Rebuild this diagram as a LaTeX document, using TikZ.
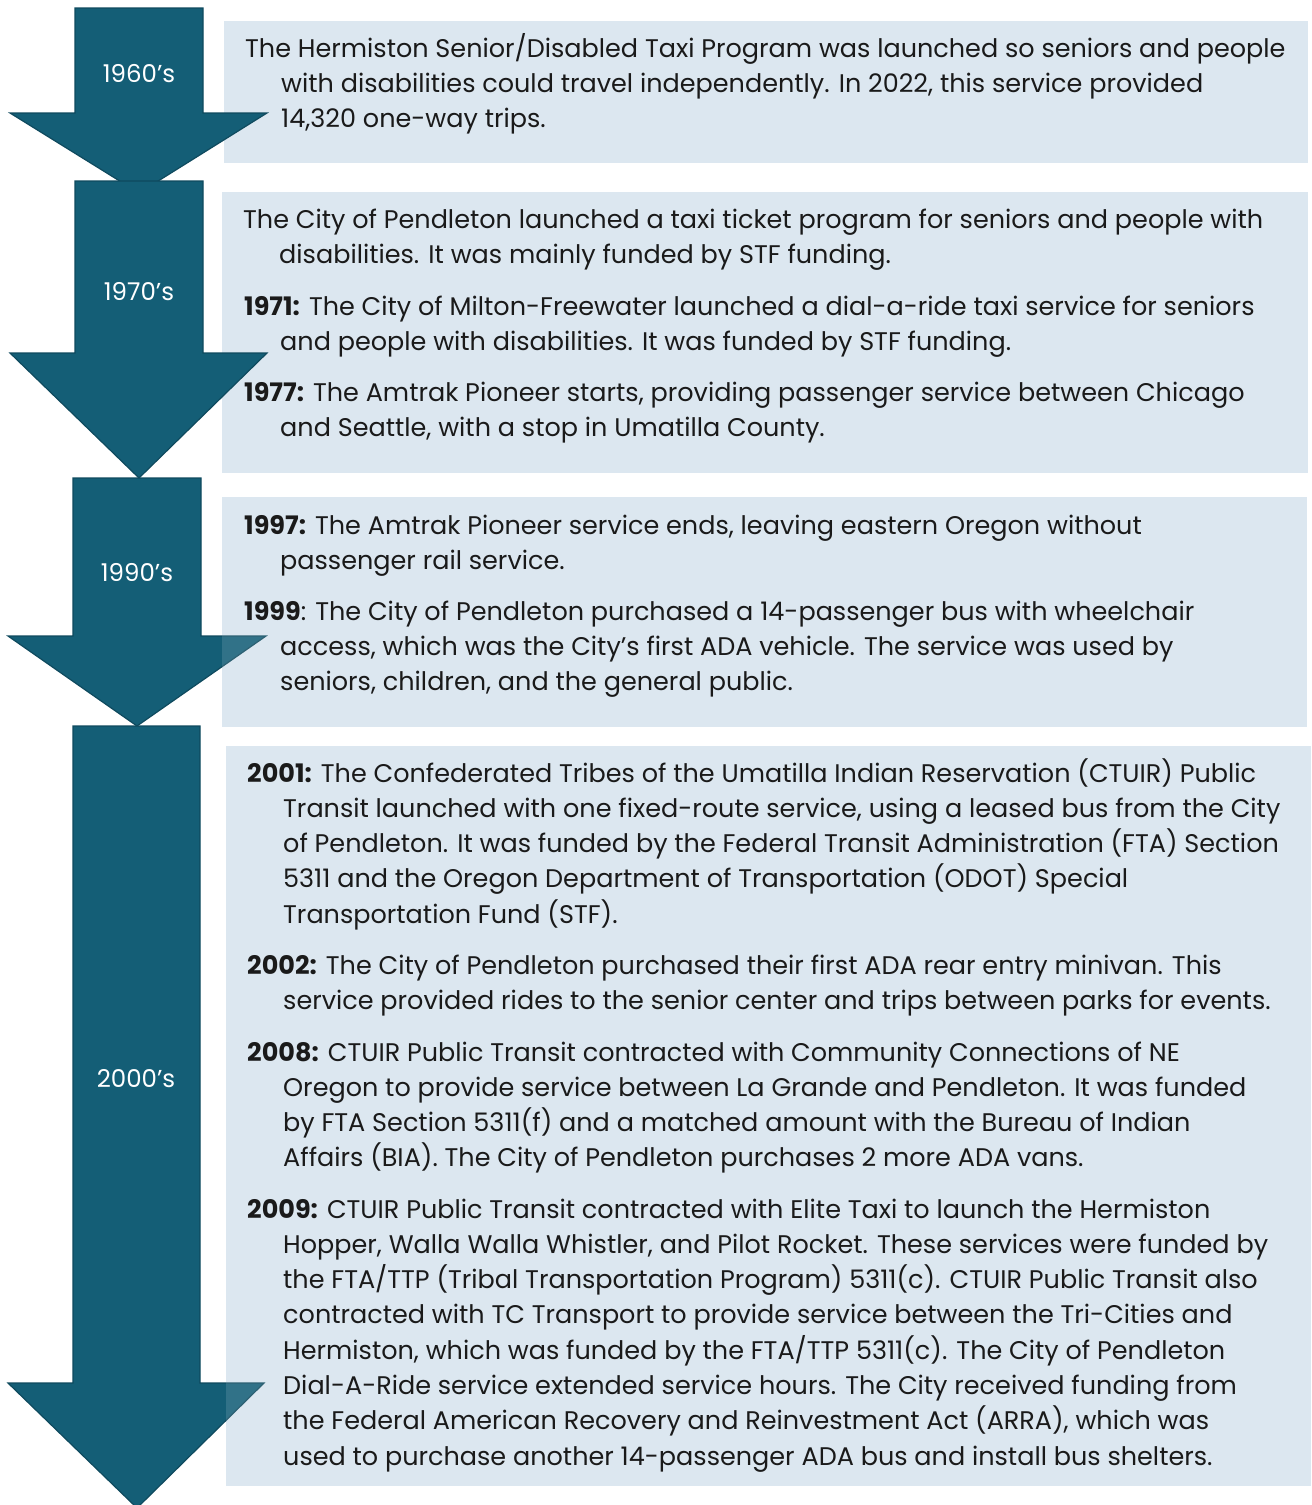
\documentclass[tikz,border=0pt]{standalone}
\usepackage{fontspec}
\setmainfont{Poppins}
\definecolor{arrowfill}{HTML}{145E76}
\definecolor{arrowline}{HTML}{0F4A5E}
\definecolor{boxfill}{HTML}{DCE7F0}
\definecolor{textc}{HTML}{1A1A1A}
\newcommand\tlpara[1]{\parbox[t]{1100pt}{\fontsize{25.5}{35.3}\selectfont\setlength\parindent{0pt}\hangindent=36pt\hangafter=1 #1}}
\tikzset{
  arrowshape/.style={fill=arrowfill, draw=arrowline, line width=1.2pt, line join=miter},
  tlbox/.style={fill=boxfill},
  boxveil/.style={fill=boxfill, fill opacity=0.15},
  yearlabel/.style={text=white, font=\fontsize{24.5}{26}\selectfont, inner sep=0pt},
  eventtext/.style={anchor=base west, inner sep=0pt, text=textc},
}
\begin{document}
\begin{tikzpicture}[x=1pt, y=-1pt]
\useasboundingbox (0,0) rectangle (1312,1505);
\fill[tlbox] (224,21) rectangle (1308,163);
\fill[tlbox] (222,192) rectangle (1308,473);
\fill[tlbox] (222,497) rectangle (1307,727);
\fill[tlbox] (226,746) rectangle (1311,1486);
\draw[arrowshape] (75,8) -- (203,8) -- (203,113) -- (267,113) -- (139,193) -- (10,113) -- (75,113) -- cycle;
\draw[arrowshape] (75,181) -- (203,181) -- (203,353) -- (267,353) -- (139,478) -- (10,353) -- (75,353) -- cycle;
\draw[arrowshape] (73,478) -- (201,478) -- (201,636) -- (266,636) -- (137,726) -- (8,636) -- (73,636) -- cycle;
\draw[arrowshape] (73,726) -- (200,726) -- (200,1383) -- (264,1383) -- (137,1508) -- (8,1383) -- (73,1383) -- cycle;
\fill[boxveil] (222,497) rectangle (1307,727);
\fill[boxveil] (226,746) rectangle (1311,1486);
\node[yearlabel] (y60) at (139,74) {1960’s};
\node[yearlabel] (y70) at (139,292) {1970’s};
\node[yearlabel] (y90) at (137,573) {1990’s};
\node[yearlabel] (y00) at (136,1079) {2000’s};
\node[eventtext] (p1960) at (245,57) {\tlpara{The Hermiston Senior/Disabled Taxi Program was launched so seniors and people\\
with disabilities could travel independently. In 2022, this service provided\\
14,320 one-way trips.}};
\node[eventtext] (p1970) at (243,228) {\tlpara{The City of Pendleton launched a taxi ticket program for seniors and people with\\
disabilities. It was mainly funded by STF funding.}};
\node[eventtext] (p1971) at (244,315) {\tlpara{\textbf{1971:} The City of Milton-Freewater launched a dial-a-ride taxi service for seniors\\
and people with disabilities. It was funded by STF funding.}};
\node[eventtext] (p1977) at (244,401) {\tlpara{\textbf{1977:} The Amtrak Pioneer starts, providing passenger service between Chicago\\
and Seattle, with a stop in Umatilla County.}};
\node[eventtext] (p1997) at (244,534) {\tlpara{\textbf{1997:} The Amtrak Pioneer service ends, leaving eastern Oregon without\\
passenger rail service.}};
\node[eventtext] (p1999) at (244,620) {\tlpara{\textbf{1999}: The City of Pendleton purchased a 14-passenger bus with wheelchair\\
access, which was the City’s first ADA vehicle. The service was used by\\
seniors, children, and the general public.}};
\node[eventtext] (p2001) at (247,782) {\tlpara{\textbf{2001:} The Confederated Tribes of the Umatilla Indian Reservation (CTUIR) Public\\
Transit launched with one fixed-route service, using a leased bus from the City\\
of Pendleton. It was funded by the Federal Transit Administration (FTA) Section\\
5311 and the Oregon Department of Transportation (ODOT) Special\\
Transportation Fund (STF).}};
\node[eventtext] (p2002) at (247,974) {\tlpara{\textbf{2002:} The City of Pendleton purchased their first ADA rear entry minivan. This\\
service provided rides to the senior center and trips between parks for events.}};
\node[eventtext] (p2008) at (247,1061) {\tlpara{\textbf{2008:} CTUIR Public Transit contracted with Community Connections of NE\\
Oregon to provide service between La Grande and Pendleton. It was funded\\
by FTA Section 5311(f) and a matched amount with the Bureau of Indian\\
Affairs (BIA). The City of Pendleton purchases 2 more ADA vans.}};
\node[eventtext] (p2009) at (247,1218) {\tlpara{\textbf{2009:} CTUIR Public Transit contracted with Elite Taxi to launch the Hermiston\\
Hopper, Walla Walla Whistler, and Pilot Rocket. These services were funded by\\
the FTA/TTP (Tribal Transportation Program) 5311(c). CTUIR Public Transit also\\
contracted with TC Transport to provide service between the Tri-Cities and\\
Hermiston, which was funded by the FTA/TTP 5311(c). The City of Pendleton\\
Dial-A-Ride service extended service hours. The City received funding from\\
the Federal American Recovery and Reinvestment Act (ARRA), which was\\
used to purchase another 14-passenger ADA bus and install bus shelters.}};
\end{tikzpicture}
\end{document}
